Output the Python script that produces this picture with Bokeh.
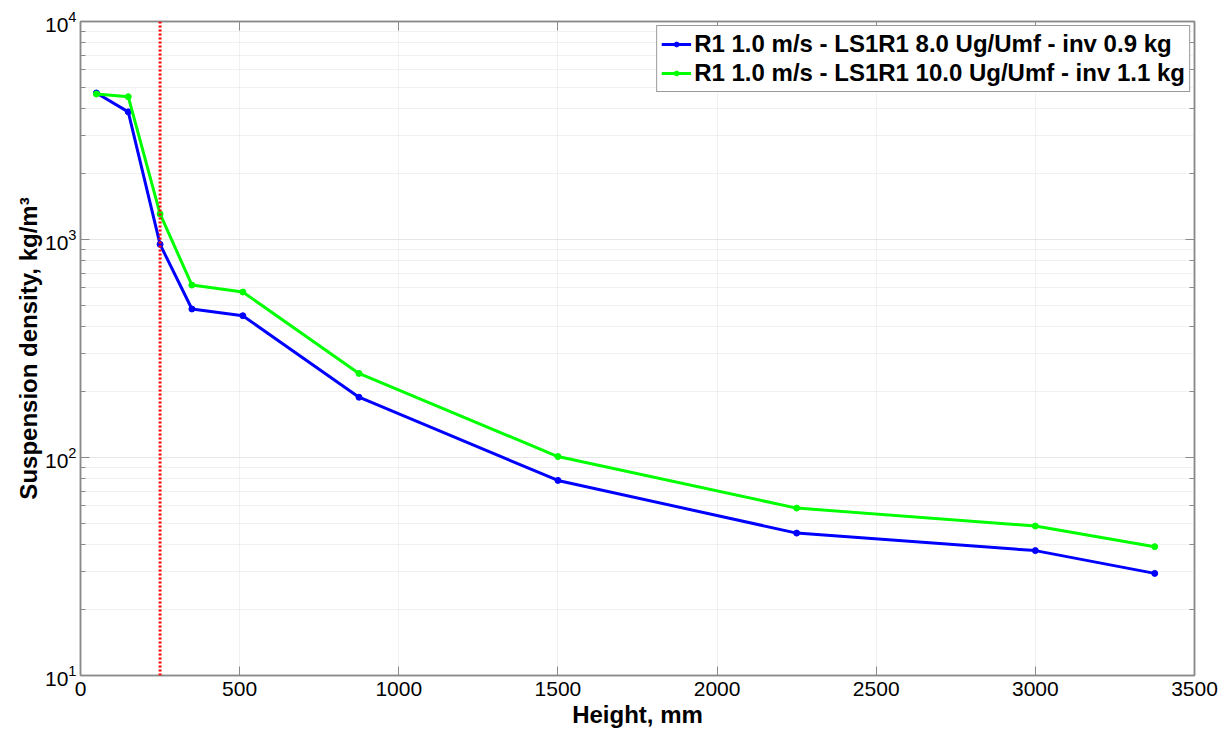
from bokeh.plotting import figure
from bokeh.models import (LogAxis, LinearAxis, SingleIntervalTicker, Span,
                          Legend, LegendItem)
from bokeh.embed import file_html
from bokeh.resources import INLINE

# ---- data ----
height_mm = [50, 150, 250, 350, 510, 875, 1500, 2250, 3000, 3375]
density_8 = [4700, 3850, 950, 480, 447, 189, 78.5, 45, 37.4, 29.4]
density_10 = [4650, 4520, 1310, 618, 574, 243, 101, 58.6, 48.5, 39]
label_8 = "R1 1.0 m/s - LS1R1 8.0 Ug/Umf - inv 0.9 kg"
label_10 = "R1 1.0 m/s - LS1R1 10.0 Ug/Umf - inv 1.1 kg"
threshold_height = 250

FONT = "Liberation Sans"
AX_COLOR = "#8a8a8a"
GRID_COLOR = "#e3e3e3"

p = figure(width=1224, height=730, x_range=(0, 3500), y_range=(10, 10000),
           y_axis_type="log", output_backend="svg", toolbar_location=None,
           min_border_left=80, min_border_right=30, min_border_top=21,
           min_border_bottom=50)
p.outline_line_color = AX_COLOR
p.outline_line_width = 1.5

xt = SingleIntervalTicker(interval=500, num_minor_ticks=0)
p.xaxis.ticker = xt
for ax in p.xaxis + p.yaxis:
    ax.axis_line_color = AX_COLOR
    ax.axis_line_width = 1.5
    ax.major_tick_line_color = AX_COLOR
    ax.minor_tick_line_color = AX_COLOR
    ax.major_tick_in = 9
    ax.major_tick_out = 0
    ax.minor_tick_in = 5
    ax.minor_tick_out = 0
    ax.major_label_text_font = FONT
    ax.major_label_text_font_size = "21px"
    ax.major_label_text_color = "black"
    ax.axis_label_text_font = FONT
    ax.axis_label_text_font_size = "24px"
    ax.axis_label_text_font_style = "bold"
    ax.axis_label_text_color = "black"

p.xaxis.axis_label = "Height, mm"
p.xaxis.axis_label_standoff = 2
p.xaxis.major_label_standoff = 6
p.yaxis.axis_label = "Suspension density, kg/m³"
p.yaxis.axis_label_standoff = 0
p.yaxis.major_label_standoff = 4

# box axes on top/right (ticks only)
top = LinearAxis(ticker=SingleIntervalTicker(interval=500, num_minor_ticks=0))
right = LogAxis()
for ax in (top, right):
    ax.axis_line_color = AX_COLOR
    ax.axis_line_width = 1.5
    ax.major_tick_line_color = AX_COLOR
    ax.minor_tick_line_color = AX_COLOR
    ax.major_tick_in = 9
    ax.major_tick_out = 0
    ax.minor_tick_in = 5
    ax.minor_tick_out = 0
    ax.major_label_text_font_size = "1px"
    ax.major_label_text_color = None
    ax.major_label_standoff = 0
p.add_layout(top, "above")
p.add_layout(right, "right")

# grids
p.xgrid.grid_line_color = GRID_COLOR
p.xgrid.grid_line_dash = "1 1"
p.ygrid.grid_line_color = GRID_COLOR
p.ygrid.grid_line_dash = "1 1"
p.ygrid.minor_grid_line_color = GRID_COLOR
p.ygrid.minor_grid_line_dash = "1 1"

# threshold line
p.add_layout(Span(location=threshold_height, dimension="height",
                  line_color="red", line_width=3, line_dash="2 2"))

l1 = p.line(height_mm, density_8, line_color="#0000ff", line_width=3)
s1 = p.scatter(height_mm, density_8, size=6, color="#0000ff")
l2 = p.line(height_mm, density_10, line_color="#00ff00", line_width=3)
s2 = p.scatter(height_mm, density_10, size=6, color="#00ff00")

legend = Legend(items=[LegendItem(label=label_8, renderers=[l1, s1]),
                       LegendItem(label=label_10, renderers=[l2, s2])],
                location="top_right")
legend.label_text_font = FONT
legend.label_text_font_size = "24px"
legend.label_text_font_style = "bold"
legend.label_text_color = "black"
legend.border_line_color = "#333333"
legend.border_line_width = 1
legend.margin = 4
legend.padding = 4
legend.spacing = 1
legend.glyph_width = 30
legend.glyph_height = 12
legend.label_height = 27
legend.label_standoff = 3
legend.background_fill_color = "white"
legend.background_fill_alpha = 1
p.add_layout(legend)

open("out.html", "w").write(file_html(p, INLINE))
